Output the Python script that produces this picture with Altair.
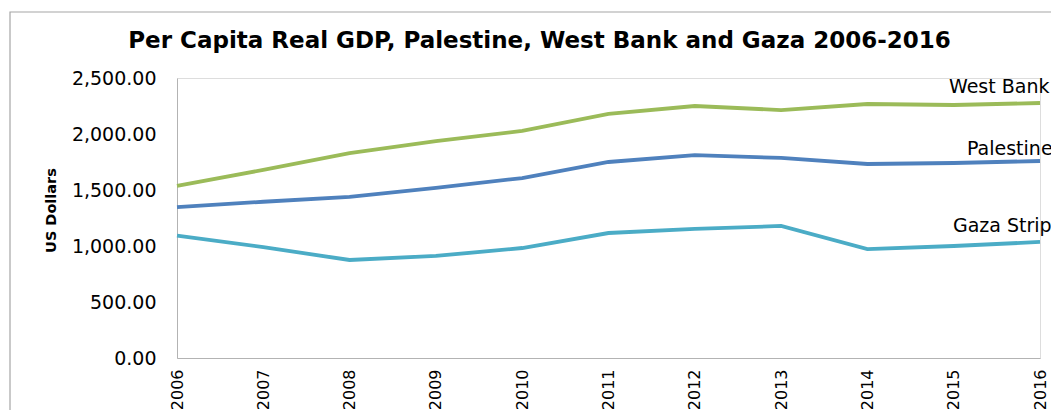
import altair as alt
import pandas as pd

years = [2006, 2007, 2008, 2009, 2010, 2011, 2012, 2013, 2014, 2015, 2016]
west_bank = [1536, 1680, 1830, 1937, 2027, 2179, 2250, 2214, 2268, 2259, 2277]
palestine = [1348, 1395, 1438, 1518, 1607, 1750, 1812, 1786, 1732, 1741, 1759]
gaza = [1092, 990, 875, 911, 982, 1116, 1152, 1179, 973, 1000, 1036]

series_names = ["West Bank", "Palestine", "Gaza Strip"]
series_colors = ["#9BBB59", "#4F81BD", "#4BACC6"]
label_dx = [-91, -73, -87]
label_dy = [-10, -6, -10]

rows = []
for name, vals in zip(series_names, [west_bank, palestine, gaza]):
    for y, v in zip(years, vals):
        rows.append({"year": y, "value": v, "series": name})
df = pd.DataFrame(rows)

W, H = 863, 280
FONT = "DejaVu Sans"

x_enc = alt.X(
    "year:O",
    scale=alt.Scale(type="point", padding=0),
    axis=alt.Axis(
        title=None,
        labelAngle=-90,
        labelAlign="right",
        labelBaseline="middle",
        labelPadding=11,
        labelFontSize=16,
        labelFont=FONT,
        labelColor="#000000",
        ticks=False,
        grid=False,
        domainColor="#b3b3b3",
        labelOverlap=False,
    ),
)
y_enc = alt.Y(
    "value:Q",
    scale=alt.Scale(domain=[0, 2500], nice=False, zero=True),
    axis=alt.Axis(
        title="US Dollars",
        titleFont=FONT,
        titleFontSize=14.5,
        titleFontWeight="bold",
        titleColor="#000000",
        titleX=-126,
        titleY=132,
        titleAlign="center",
        titleBaseline="middle",
        titleAngle=-90,
        format=",.2f",
        values=[0, 500, 1000, 1500, 2000, 2500],
        labelFontSize=19,
        labelFont=FONT,
        labelColor="#000000",
        labelPadding=21,
        ticks=False,
        grid=False,
        domainColor="#b3b3b3",
    ),
)

color_scale = alt.Scale(domain=series_names, range=series_colors)

lines = alt.Chart(df).mark_line(strokeWidth=3.8).encode(
    x=x_enc,
    y=y_enc,
    color=alt.Color("series:N", scale=color_scale, legend=None),
)

label_layers = []
for name, vals, dx, dy in zip(series_names, [west_bank, palestine, gaza], label_dx, label_dy):
    ldf = pd.DataFrame({"year": [years[-1]], "value": [vals[-1]], "series": [name]})
    label_layers.append(
        alt.Chart(ldf)
        .mark_text(align="left", baseline="alphabetic", dx=dx, dy=dy, fontSize=19, font=FONT, color="#000000")
        .encode(x="year:O", y="value:Q", text="series:N")
    )

frame = alt.Chart(pd.DataFrame({"a": [0]})).mark_rect(
    fill=None, stroke="#a6a6a6", strokeWidth=1.2
).encode(
    x=alt.value(-167), x2=alt.value(W + 60), y=alt.value(-66), y2=alt.value(H + 80)
)

chart = alt.layer(frame, lines, *label_layers).properties(
    width=W,
    height=H,
    title=alt.TitleParams(
        "Per Capita Real GDP, Palestine, West Bank and Gaza 2006-2016",
        font=FONT,
        fontSize=23,
        fontWeight="bold",
        color="#000000",
        anchor="middle",
        frame="group",
        baseline="alphabetic",
        dx=-69,
        offset=-59.5,
    ),
    autosize=alt.AutoSizeParams(type="none"),
    padding={"left": 169, "top": 70, "right": 11, "bottom": 52},
).configure_view(stroke=None).configure(background="white")

chart.save("out.html", embed_options={"renderer": "svg", "actions": False})
